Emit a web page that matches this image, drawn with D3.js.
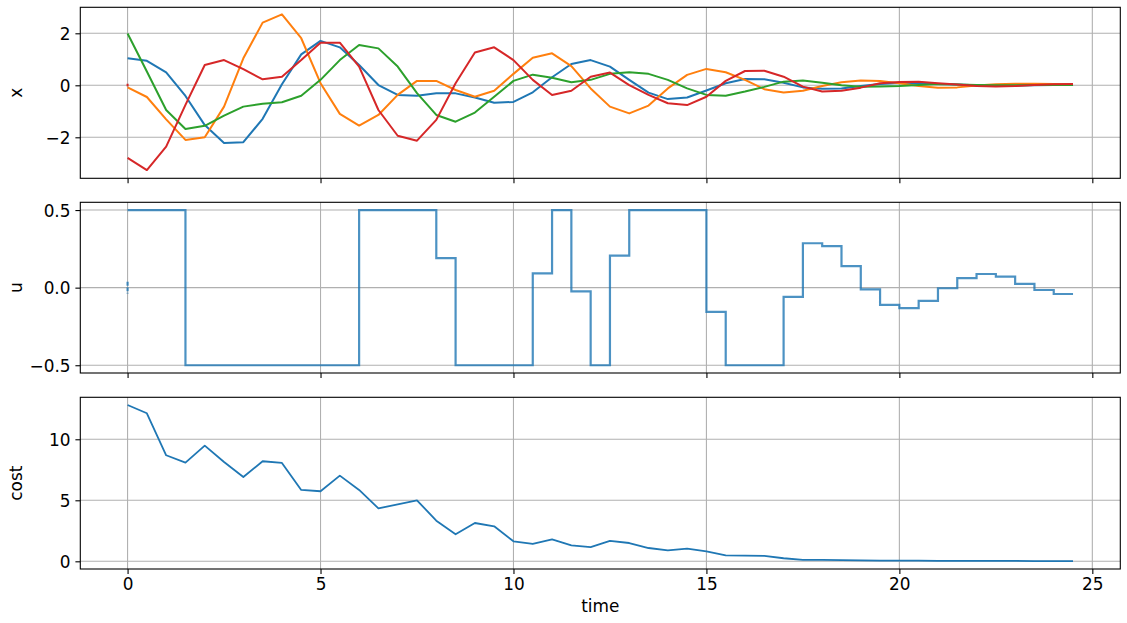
<!DOCTYPE html>
<html>
<head>
<meta charset="utf-8">
<script src="https://cdn.jsdelivr.net/npm/d3@7"></script>
<style>
  html, body { margin: 0; padding: 0; background: #fff; }
  svg { display: block; }
  text { font-family: "DejaVu Sans", sans-serif; fill: #000; }
</style>
</head>
<body>
<svg id="chart" width="1127" height="623"></svg>
<script>
// ---------------- data ----------------
const time = d3.range(50).map(i => i * 0.5);

const x0 = [1.04, 0.94, 0.50, -0.41, -1.53, -2.22, -2.19, -1.29, 0.04, 1.19,
            1.71, 1.46, 0.78, 0.01, -0.37, -0.40, -0.31, -0.31, -0.47, -0.67,
            -0.64, -0.27, 0.31, 0.82, 0.97, 0.72, 0.21, -0.28, -0.53, -0.47,
            -0.20, 0.08, 0.24, 0.23, 0.10, -0.08, -0.13, -0.12, -0.03, 0.05,
            0.09, 0.08, 0.05, 0.03, 0.00, -0.01, -0.01, 0.00, 0.01, 0.01];
const x1 = [-0.08, -0.45, -1.31, -2.10, -2.00, -0.82, 1.04, 2.41, 2.73, 1.81,
            0.08, -1.10, -1.55, -1.14, -0.37, 0.17, 0.17, -0.18, -0.44, -0.21,
            0.44, 1.06, 1.23, 0.74, -0.12, -0.82, -1.08, -0.78, -0.12, 0.40,
            0.63, 0.50, 0.21, -0.15, -0.28, -0.21, -0.03, 0.12, 0.18, 0.17,
            0.08, -0.03, -0.09, -0.08, -0.01, 0.04, 0.06, 0.06, 0.05, 0.04];
const x2 = [1.99, 0.53, -0.95, -1.68, -1.56, -1.17, -0.82, -0.71, -0.65, -0.40,
            0.21, 0.97, 1.55, 1.42, 0.72, -0.30, -1.14, -1.40, -1.05, -0.44,
            0.17, 0.41, 0.29, 0.12, 0.21, 0.44, 0.50, 0.44, 0.21, -0.12,
            -0.37, -0.40, -0.24, -0.06, 0.14, 0.18, 0.10, 0.00, -0.06, -0.05,
            -0.03, 0.01, 0.05, 0.03, 0.01, 0.00, 0.00, 0.01, 0.01, 0.01];
const x3 = [-2.79, -3.26, -2.36, -0.75, 0.78, 0.97, 0.62, 0.23, 0.33, 0.97,
            1.64, 1.64, 0.72, -0.95, -1.94, -2.13, -1.33, 0.08, 1.26, 1.46,
            0.97, 0.21, -0.37, -0.21, 0.33, 0.49, 0.01, -0.37, -0.69, -0.76,
            -0.44, 0.17, 0.55, 0.56, 0.33, -0.05, -0.24, -0.21, -0.09, 0.08,
            0.13, 0.14, 0.08, 0.03, -0.03, -0.05, -0.03, 0.01, 0.04, 0.05];
const xSeries = [x0, x1, x2, x3];
const xColors = ["#1f77b4", "#ff7f0e", "#2ca02c", "#d62728"];

const uValues = [0.5, 0.5, 0.5, -0.5, -0.5, -0.5, -0.5, -0.5, -0.5, -0.5,
                 -0.5, -0.5, 0.5, 0.5, 0.5, 0.5, 0.19, -0.5, -0.5, -0.5,
                 -0.5, 0.092, 0.5, -0.024, -0.5, 0.207, 0.5, 0.5, 0.5, 0.5,
                 -0.156, -0.5, -0.5, -0.5, -0.06, 0.286, 0.267, 0.139, -0.011, -0.111,
                 -0.132, -0.085, -0.004, 0.062, 0.088, 0.071, 0.024, -0.015, -0.041, -0.041];

const cost = [12.81, 12.13, 8.69, 8.09, 9.48, 8.14, 6.91, 8.20, 8.06, 5.85,
              5.74, 7.02, 5.85, 4.34, 4.67, 5.00, 3.33, 2.21, 3.14, 2.87,
              1.64, 1.42, 1.80, 1.31, 1.17, 1.67, 1.50, 1.09, 0.90, 1.04,
              0.82, 0.49, 0.46, 0.44, 0.25, 0.11, 0.12, 0.10, 0.08, 0.06,
              0.05, 0.05, 0.04, 0.04, 0.03, 0.03, 0.03, 0.02, 0.02, 0.02];

const xTicks = [0, 5, 10, 15, 20, 25];
const xStateTicks = [-2, 0, 2];
const uTicks = [-0.5, 0.0, 0.5];
const costTicks = [0, 5, 10];

// ---------------- layout ----------------
const svg = d3.select("#chart");
const L = 80.3, R = 1120.3;
const FS = 16.9;

const xScale = d3.scaleLinear().domain([-1.225, 25.725]).range([L, R]);

const panels = [
  { top: 7.3,   bottom: 178.3, domain: [-3.577, 3.0],  ticks: xStateTicks, fmt: d3.format("d"),   label: "x" },
  { top: 202.3, bottom: 373.0, domain: [-0.55, 0.55],  ticks: uTicks,      fmt: d3.format(".1f"), label: "u" },
  { top: 397.3, bottom: 569.0, domain: [-0.63, 13.44], ticks: costTicks,   fmt: d3.format("d"),   label: "cost" }
];

panels.forEach((p, idx) => {
  p.y = d3.scaleLinear().domain(p.domain).range([p.bottom, p.top]);
  const g = svg.append("g");
  p.g = g;

  // grid
  g.append("g").selectAll("line").data(xTicks).join("line")
    .attr("x1", d => xScale(d)).attr("x2", d => xScale(d))
    .attr("y1", p.top).attr("y2", p.bottom)
    .attr("stroke", "#b0b0b0").attr("stroke-width", 1.1);
  g.append("g").selectAll("line").data(p.ticks).join("line")
    .attr("x1", L).attr("x2", R)
    .attr("y1", d => p.y(d)).attr("y2", d => p.y(d))
    .attr("stroke", "#b0b0b0").attr("stroke-width", 1.1);

  // axes
  const xAx = d3.axisBottom(xScale).tickValues(xTicks).tickSize(4.9).tickPadding(4.9)
    .tickFormat(idx === 2 ? d3.format("d") : () => "");
  const gx = g.append("g").attr("transform", `translate(0,${p.bottom})`).call(xAx);
  const yAx = d3.axisLeft(p.y).tickValues(p.ticks).tickSize(4.9).tickPadding(4.9).tickFormat(p.fmt);
  const gy = g.append("g").attr("transform", `translate(${L},0)`).call(yAx);
  [gx, gy].forEach(a => {
    a.select(".domain").remove();
    a.selectAll(".tick line").attr("stroke", "#000").attr("stroke-width", 1.1);
    a.selectAll(".tick text").attr("font-size", FS).attr("font-family", "DejaVu Sans").attr("fill", "#000");
  });
  gx.selectAll(".tick text").attr("dy", "0.66em");
  gy.selectAll(".tick text").attr("dy", "0.36em");

  // y label
  g.append("text")
    .attr("transform", `translate(21.5,${(p.top + p.bottom) / 2}) rotate(-90)`)
    .attr("text-anchor", "middle").attr("font-size", FS).text(p.label);
});

// ---------------- marks ----------------
const line = (ys) => d3.line().x((d, i) => xScale(time[i])).y(d => ys(d));

// x states
const p0 = panels[0];
xSeries.forEach((s, k) => {
  p0.g.append("path").datum(s)
    .attr("d", line(p0.y))
    .attr("fill", "none").attr("stroke", xColors[k]).attr("stroke-width", 2)
    .attr("stroke-linejoin", "round");
});
// small initial marker of the last state
p0.g.append("line")
  .attr("x1", xScale(0)).attr("x2", xScale(0))
  .attr("y1", p0.y(0.06)).attr("y2", p0.y(-0.04))
  .attr("stroke", xColors[3]).attr("stroke-width", 2);

// u step
const p1 = panels[1];
p1.g.append("path").datum(uValues)
  .attr("d", d3.line().x((d, i) => xScale(time[i])).y(d => p1.y(d)).curve(d3.curveStepAfter))
  .attr("fill", "none").attr("stroke", "#1f77b4").attr("stroke-opacity", 0.8)
  .attr("stroke-width", 2.2);
p1.g.append("line")
  .attr("x1", xScale(0)).attr("x2", xScale(0))
  .attr("y1", p1.y(0.038)).attr("y2", p1.y(-0.038))
  .attr("stroke", "#1f77b4").attr("stroke-opacity", 0.8).attr("stroke-width", 2.2)
  .attr("stroke-dasharray", "4,1.5");

// cost
const p2 = panels[2];
p2.g.append("path").datum(cost)
  .attr("d", line(p2.y))
  .attr("fill", "none").attr("stroke", "#1f77b4").attr("stroke-width", 1.8)
  .attr("stroke-linejoin", "round");

// spines on top
panels.forEach(p => {
  p.g.append("rect")
    .attr("x", L).attr("y", p.top).attr("width", R - L).attr("height", p.bottom - p.top)
    .attr("fill", "none").attr("stroke", "#000").attr("stroke-width", 1.1);
});

// x label
svg.append("text").attr("x", (L + R) / 2).attr("y", 612)
  .attr("text-anchor", "middle").attr("font-size", FS).text("time");
</script>
</body>
</html>
